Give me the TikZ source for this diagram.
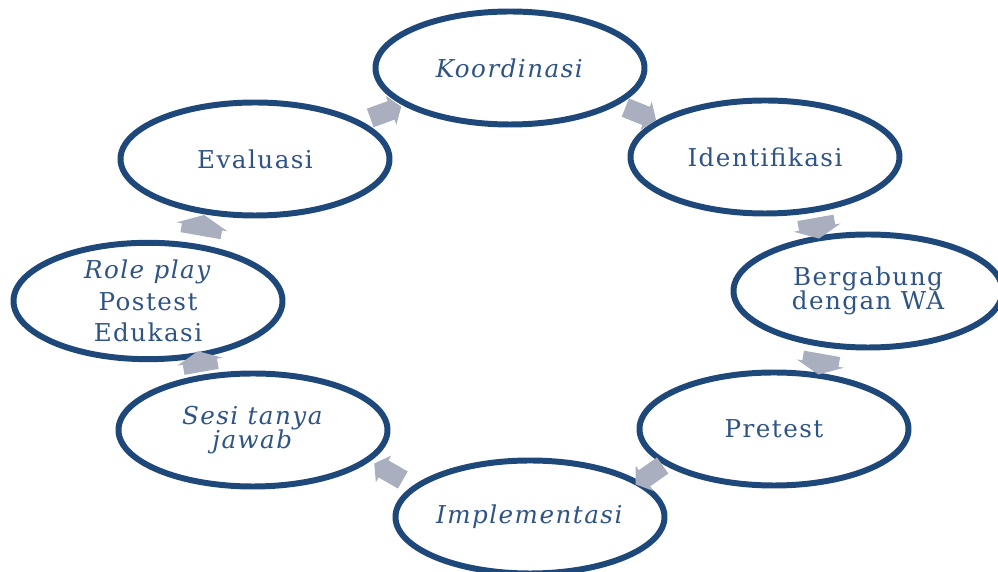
\documentclass[tikz,border=0pt]{standalone}
\usepackage{fontspec}
\setmainfont{DejaVu Serif}[LetterSpace=6]
\usepackage{tikz}
\usetikzlibrary{calc,shapes.geometric,shapes.arrows}
\definecolor{ringblue}{HTML}{1F487A}
\definecolor{textblue}{HTML}{2E5385}
\definecolor{arrowgrey}{HTML}{A9AFBF}

\begin{document}
\begin{tikzpicture}[every ellipse node/.style={draw=ringblue, line width=3.4pt, fill=white,
        minimum width=5.38cm, minimum height=2.26cm, inner sep=0pt, align=center,
        text=textblue, font=\fontsize{14}{16}\selectfont},
    cyclearrow/.style={single arrow, fill=arrowgrey, inner xsep=0pt, inner ysep=0.19cm,
        single arrow tip angle=110, single arrow head extend=0.11cm, minimum height=0.66cm},
    flatarrow/.style={cyclearrow, inner ysep=0.36cm, single arrow tip angle=130, minimum height=0.42cm}]
            \useasboundingbox (0, 0) rectangle (19.96, -11.44);
            \draw (10.2, -1.36) node[ellipse](koord){\textit{Koordinasi}};
            \draw (15.3, -3.14) node[ellipse](ident){Identifikasi};
            \draw (17.36, -5.82) node[ellipse](gabung){Bergabung\\[-2pt] dengan WA};
            \draw (15.48, -8.58) node[ellipse](pre){Pretest};
            \draw (10.6, -10.34) node[ellipse](impl){\textit{Implementasi}};
            \draw (5.06, -8.6) node[ellipse](sesi){\textit{Sesi tanya}\\[-2pt] \textit{jawab}};
            \draw (2.96, -6.02) node[ellipse](role){\textit{Role play}\\[2pt] Postest\\[2pt] Edukasi};
            \draw (5.1, -3.18) node[ellipse](eval){Evaluasi};
            \node[cyclearrow, rotate=-22] at ($(koord)!0.5!(ident)$) {};
            \node[flatarrow, rotate=-80] at ($(ident)!0.5!(gabung)$) {};
            \node[flatarrow, rotate=-100] at ($(gabung)!0.5!(pre)$) {};
            \node[cyclearrow, rotate=-145] at ($(pre)!0.5!(impl)$) {};
            \node[cyclearrow, rotate=150] at ($(impl)!0.5!(sesi)$) {};
            \node[flatarrow, rotate=100, inner ysep=0.34cm] at ($(sesi)!0.5!(role)$) {};
            \node[flatarrow, rotate=80, inner ysep=0.4cm] at ($(role)!0.5!(eval)$) {};
            \node[cyclearrow, rotate=20] at ($(eval)!0.5!(koord)$) {};
        \end{tikzpicture}
\end{document}
